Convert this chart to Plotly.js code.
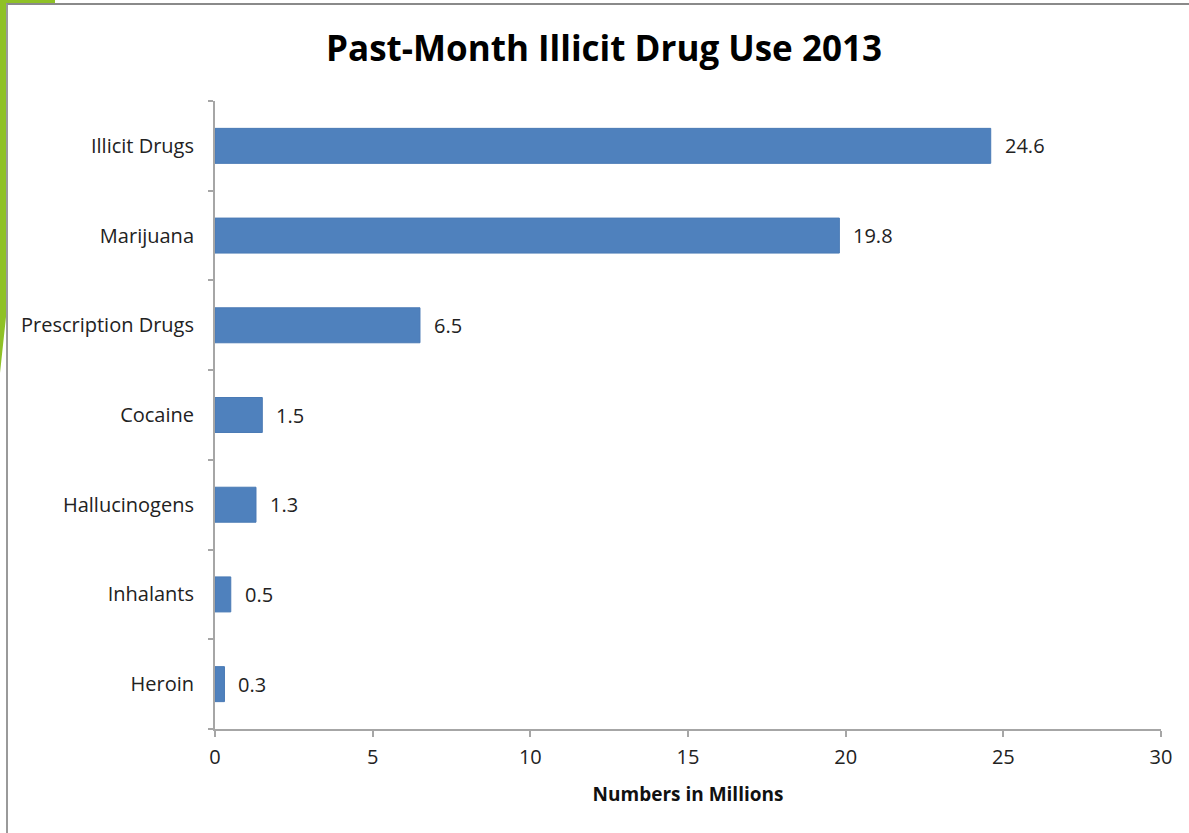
<!DOCTYPE html>
<html>
<head>
<meta charset="utf-8">
<script src="https://cdn.plot.ly/plotly-3.0.1.min.js"></script>
<style>
  html, body { margin: 0; padding: 0; background: #ffffff; }
  #wrap { position: relative; width: 1189px; height: 833px; overflow: hidden; background: #ffffff; }
  #green { position: absolute; left: 0; top: 0; width: 60px; height: 400px; background: #8fc126;
           clip-path: polygon(0 0, 55px 0, 55px 3px, 6px 3px, 6px 317px, 0 373px); }
  #frame { position: absolute; left: 6px; top: 3px; width: 1200px; height: 850px;
           border-top: 2px solid #8a8a8a; border-left: 2px solid #9a9a9a; box-sizing: border-box; }
  #chart { position: absolute; left: 0; top: 0; width: 1189px; height: 833px; }
</style>
</head>
<body>
<div id="wrap">
  <div id="green"></div>
  <div id="frame"></div>
  <div id="chart"></div>
</div>
<script>
const categories = ["Illicit Drugs", "Marijuana", "Prescription Drugs", "Cocaine", "Hallucinogens", "Inhalants", "Heroin"];
const values = [24.6, 19.8, 6.5, 1.5, 1.3, 0.5, 0.3];
const valueLabels = ["24.6", "19.8", "6.5", "1.5", "1.3", "0.5", "0.3"];
const xTicks = [0, 5, 10, 15, 20, 25, 30];

const fontFam = "'Open Sans', Lato, sans-serif";

const trace = {
  type: "bar",
  orientation: "h",
  x: values,
  y: categories,
  marker: { color: "#4f81bd", line: { color: "#4a7ab5", width: 1 } },
  hoverinfo: "x+y"
};

const annotations = categories.map((c, i) => ({
  x: values[i], y: c, xref: "x", yref: "y",
  text: valueLabels[i], showarrow: false,
  xanchor: "left", yanchor: "middle", xshift: 12,
  font: { family: fontFam, size: 20, color: "#222222" }
}));

const layout = {
  width: 1189, height: 833,
  margin: { l: 215, r: 28, t: 101, b: 104 },
  paper_bgcolor: "rgba(0,0,0,0)",
  plot_bgcolor: "rgba(0,0,0,0)",
  showlegend: false,
  bargap: 0.61,
  title: {
    text: "<b>Past-Month Illicit Drug Use 2013</b>",
    x: 0.508, xanchor: "center", y: 0.942, yanchor: "middle",
    font: { family: fontFam, size: 35, color: "#000000" }
  },
  xaxis: {
    range: [0, 30],
    tickvals: xTicks,
    ticktext: xTicks.map(String),
    showgrid: false, zeroline: false,
    showline: true, linecolor: "#a6a6a6", linewidth: 2,
    ticks: "outside", ticklen: 6, tickcolor: "#a6a6a6", tickwidth: 2,
    ticklabelstandoff: 3,
    tickfont: { family: fontFam, size: 20, color: "#222222" },
    title: { text: "<b>Numbers in Millions</b>", standoff: 19,
             font: { family: fontFam, size: 19, color: "#111111" } }
  },
  yaxis: {
    type: "category",
    categoryorder: "array",
    categoryarray: categories.slice().reverse(),
    showgrid: false, zeroline: false,
    showline: true, linecolor: "#a6a6a6", linewidth: 2,
    ticks: "outside", tickson: "boundaries", ticklen: 5, tickcolor: "#a6a6a6", tickwidth: 2,
    ticklabelstandoff: 15,
    tickfont: { family: fontFam, size: 20, color: "#222222" }
  },
  annotations: annotations
};

Plotly.newPlot("chart", [trace], layout, { displayModeBar: false, staticPlot: true });
</script>
</body>
</html>
